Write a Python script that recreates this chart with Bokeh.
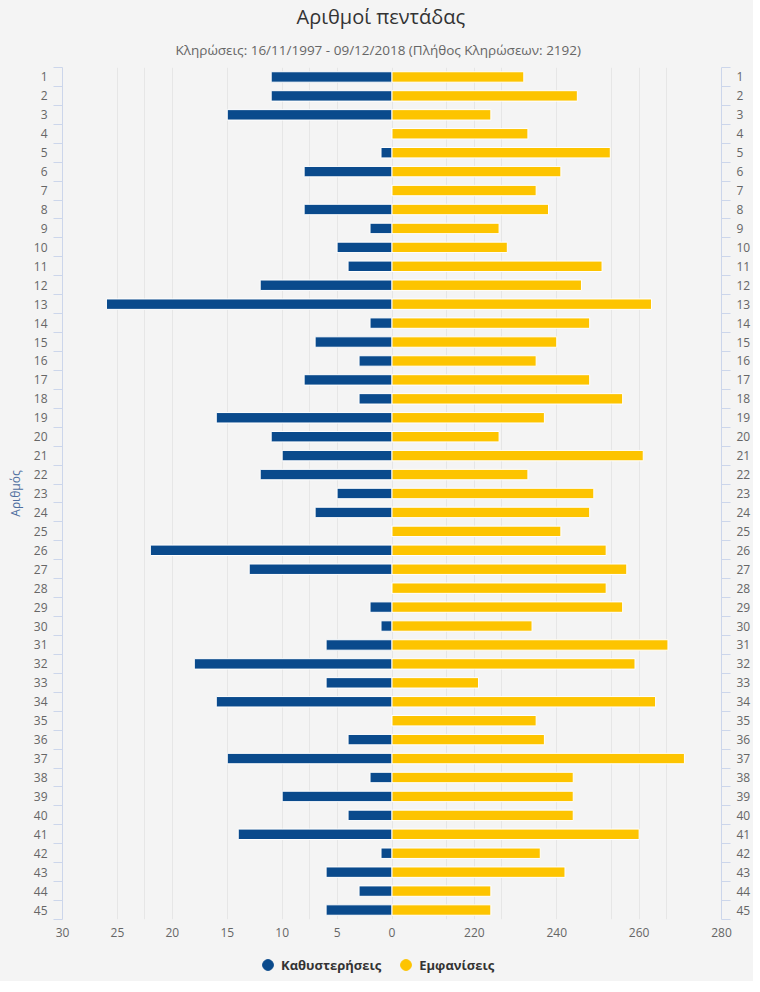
from bokeh.plotting import figure
from bokeh.layouts import column
from bokeh.models import (Range1d, LinearAxis, FixedTicker, CustomJSTickFormatter,
                          Title, Legend, LegendItem)
from bokeh.embed import file_html
from bokeh.resources import INLINE

# ---- data ----
numbers = list(range(1, 46))
delays = [11, 11, 15, 0, 1, 8, 0, 8, 2, 5, 4, 12, 26, 2, 7, 3, 8, 3, 16, 11,
          10, 12, 5, 7, 0, 22, 13, 0, 2, 1, 6, 18, 6, 16, 0, 4, 15, 2, 10, 4,
          14, 1, 6, 3, 6]
appearances = [232, 245, 224, 233, 253, 241, 235, 238, 226, 228, 251, 246, 263,
               248, 240, 235, 248, 256, 237, 226, 261, 233, 249, 248, 241, 252,
               257, 252, 256, 234, 267, 259, 221, 264, 235, 237, 271, 244, 244,
               244, 260, 236, 242, 224, 224]
delay_ticks = [30, 25, 20, 15, 10, 5, 0]
appearance_ticks = [220, 240, 260, 280]
series_names = ["Καθυστερήσεις", "Εμφανίσεις"]
title_text = "Αριθμοί πεντάδας"
subtitle_text = "Κληρώσεις: 16/11/1997 - 09/12/2018 (Πλήθος Κληρώσεων: 2192)"
y_title = "Αριθμός"

# ---- styles ----
BLUE = "#0a4a8c"
YELLOW = "#fdc400"
BG = "#f4f4f4"
GRID = "#e6e6e6"
AXIS = "#ccd6eb"
FONT = "Open Sans"

D_MAX = 30               # delays axis: 30 .. 0 on the left half
A_MIN, A_MAX = 200, 280  # appearances axis: 200 .. 280 on the right half
ratio = (A_MAX - A_MIN) / D_MAX


def app_to_main(v):
    return -(v - A_MIN) / ratio


p = figure(frame_width=659, frame_height=852,
           x_range=Range1d(D_MAX, -D_MAX),
           y_range=Range1d(45.5, 0.5),
           output_backend="svg", toolbar_location=None,
           min_border_left=62, min_border_right=23,
           min_border_top=58, min_border_bottom=20,
           background_fill_color=BG, border_fill_color=BG,
           outline_line_color=None)
p.extra_x_ranges = {"app": Range1d(A_MIN - (A_MAX - A_MIN), A_MAX)}

# grid (symmetric, as in reference)
grid_pos = sorted(set([t for t in delay_ticks if 0 <= t < D_MAX] +
                      [-app_to_main(v) for v in appearance_ticks if v < A_MAX] +
                      [-t for t in delay_ticks if 0 < t < D_MAX] +
                      [app_to_main(v) for v in appearance_ticks if v < A_MAX]))
p.xgrid.ticker = FixedTicker(ticks=grid_pos)
p.xgrid.grid_line_color = GRID
p.ygrid.visible = False

# bars
p.hbar(y=numbers, left=0, right=delays, height=0.55,
       fill_color=BLUE, line_color="white", line_width=1)
p.hbar(y=numbers, left=A_MIN, right=appearances, height=0.55,
       fill_color=YELLOW, line_color="white", line_width=1, x_range_name="app")

# x axis (combined labels of both halves)
xa = p.xaxis[0]
xa.ticker = FixedTicker(ticks=delay_ticks + [app_to_main(v) for v in appearance_ticks])
xa.formatter = CustomJSTickFormatter(args=dict(base=A_MIN, ratio=ratio), code="""
    return tick >= 0 ? String(Math.round(tick)) : String(Math.round(base - tick * ratio));
""")
xa.axis_line_color = None
xa.major_tick_line_color = None
xa.minor_tick_line_color = None
xa.major_tick_out = 0
xa.minor_tick_out = 0
xa.major_label_standoff = 8
xa.major_label_text_font = FONT
xa.major_label_text_font_size = "12px"
xa.major_label_text_color = "#666666"


def style_y(ax):
    ax.ticker = FixedTicker(ticks=numbers,
                            minor_ticks=[n - 0.5 for n in numbers] + [numbers[-1] + 0.5])
    ax.axis_line_color = AXIS
    ax.major_tick_line_color = None
    ax.major_tick_out = 0
    ax.major_tick_in = 0
    ax.minor_tick_line_color = AXIS
    ax.minor_tick_out = 9
    ax.minor_tick_in = 0
    ax.major_label_standoff = 6
    ax.major_label_text_font = FONT
    ax.major_label_text_font_size = "12px"
    ax.major_label_text_color = "#666666"


ya = p.yaxis[0]
style_y(ya)
ya.axis_label = y_title
ya.axis_label_text_font = FONT
ya.axis_label_text_font_size = "12px"
ya.axis_label_text_font_style = "normal"
ya.axis_label_text_color = "#4f6f9f"
ya.axis_label_standoff = 7

yr = LinearAxis()
style_y(yr)
p.add_layout(yr, "right")

# titles (left-aligned with offsets so that they centre on the whole chart)
p.add_layout(Title(text=subtitle_text, align="left", offset=113, text_font=FONT,
                   text_font_size="13.5px", text_font_style="normal",
                   text_color="#666666", standoff=18), "above")
p.add_layout(Title(text=title_text, align="left", offset=234, text_font=FONT,
                   text_font_size="20px", text_font_style="normal",
                   text_color="#333333", standoff=0), "above")

# legend strip below the chart
lf = figure(frame_width=744, frame_height=42, x_range=Range1d(0, 1), y_range=Range1d(0, 1),
            output_backend="svg", toolbar_location=None,
            min_border=0, background_fill_color=BG, border_fill_color=BG,
            outline_line_color=None)
lf.axis.visible = False
lf.grid.visible = False
nan = float("nan")
r1 = lf.scatter(x=[nan], y=[nan], marker="circle", size=12, fill_color=BLUE, line_color=BLUE)
r2 = lf.scatter(x=[nan], y=[nan], marker="circle", size=12, fill_color=YELLOW, line_color=YELLOW)
legend = Legend(items=[LegendItem(label=series_names[0], renderers=[r1]),
                       LegendItem(label=series_names[1], renderers=[r2])],
                orientation="horizontal", location=(254, 3),
                border_line_color=None, background_fill_alpha=0,
                label_text_font=FONT, label_text_font_style="bold",
                label_text_font_size="13px", label_text_color="#333333",
                glyph_width=27, glyph_height=27, spacing=11, label_standoff=0,
                margin=0, padding=3)
lf.add_layout(legend, "center")

layout = column(p, lf, spacing=0, styles={"background-color": BG})
open("out.html", "w").write(file_html(layout, INLINE))
